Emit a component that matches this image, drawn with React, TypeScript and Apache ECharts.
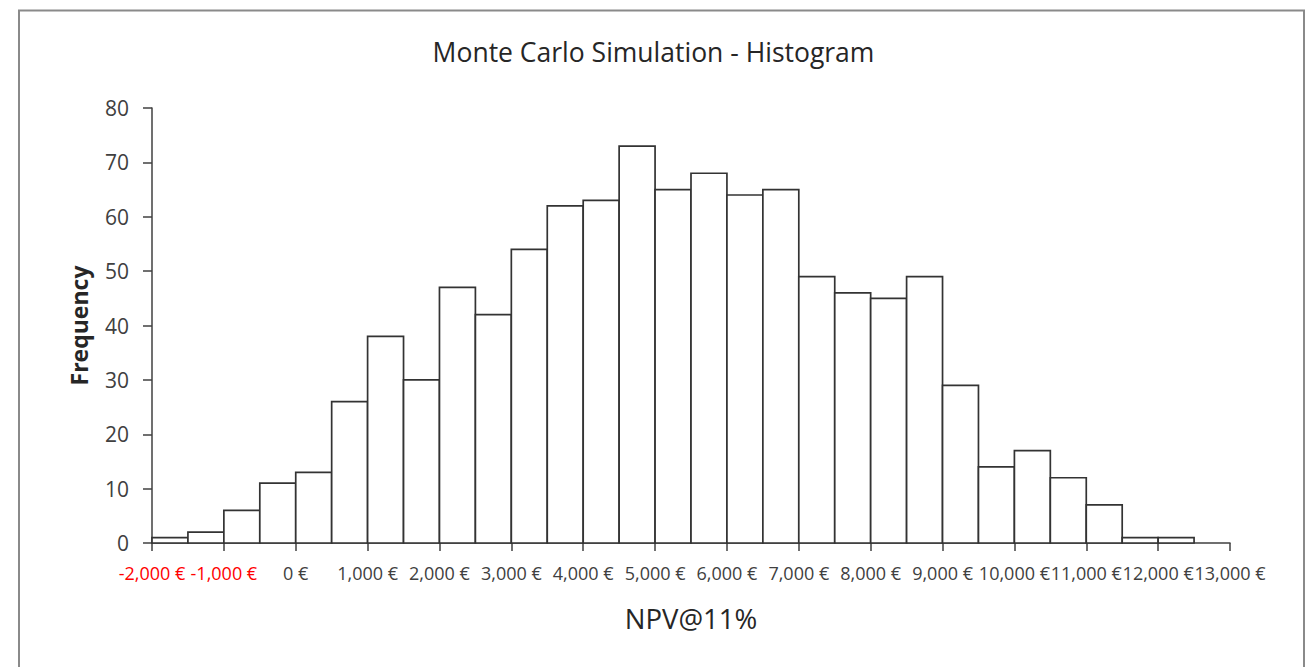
import React, { useEffect, useRef } from "react";
import * as echarts from "echarts";

const binStarts = [
  -2000, -1500, -1000, -500, 0, 500, 1000, 1500, 2000, 2500, 3000, 3500, 4000, 4500, 5000,
  5500, 6000, 6500, 7000, 7500, 8000, 8500, 9000, 9500, 10000, 10500, 11000, 11500, 12000,
];
const binWidth = 500;
const frequencies = [
  1, 2, 6, 11, 13, 26, 38, 30, 47, 42, 54, 62, 63, 73, 65, 68, 64, 65, 49, 46, 45, 49, 29, 14,
  17, 12, 7, 1, 1,
];
const xMin = -2000;
const xMax = 13000;
const xStep = 1000;
const yMin = 0;
const yMax = 80;
const yStep = 10;

const FONT = "'Open Sans', 'DejaVu Sans', sans-serif";
const TEXT = "#404040";

export default function App() {
  const ref = useRef<HTMLDivElement>(null);
  useEffect(() => {
    if (!ref.current) return;
    const chart = echarts.init(ref.current, undefined, { renderer: "svg" });
    const data = binStarts.map((s, i) => [s, s + binWidth, frequencies[i]]);
    const fmt = (v: number) => v.toLocaleString("en-US") + " \u20ac";
    chart.setOption({
      animation: false,
      backgroundColor: "#ffffff",
      title: {
        text: "Monte Carlo Simulation - Histogram",
        left: "center",
        top: 38,
        padding: 0,
        textStyle: { fontFamily: FONT, fontSize: 26.5, fontWeight: "normal", color: "#262626" },
      },
      graphic: [
        {
          type: "rect",
          shape: { x: 19, y: 10.5, width: 1285, height: 700 },
          style: { fill: "none", stroke: "#8a8a8a", lineWidth: 2 },
          silent: true,
        },
      ],
      grid: { left: 152, right: 77, top: 108, bottom: 124, containLabel: false },
      xAxis: {
        type: "value",
        min: xMin,
        max: xMax,
        interval: xStep,
        name: "NPV@11%",
        nameLocation: "middle",
        nameGap: 61,
        nameTextStyle: { fontFamily: FONT, fontSize: 27.5, color: "#262626" },
        axisLine: { show: true, onZero: false, lineStyle: { color: TEXT, width: 1.5 } },
        axisTick: { show: true, length: 8, lineStyle: { color: TEXT, width: 1.5 } },
        splitLine: { show: false },
        axisLabel: {
          margin: 21,
          hideOverlap: false,
          fontFamily: FONT,
          fontSize: 18,
          color: TEXT,
          formatter: (v: number) => (v < 0 ? "{r|" + fmt(v) + "}" : fmt(v)),
          rich: { r: { color: "#ff0000", fontFamily: FONT, fontSize: 18 } },
        },
      },
      yAxis: {
        type: "value",
        min: yMin,
        max: yMax,
        interval: yStep,
        name: "Frequency",
        nameLocation: "middle",
        nameGap: 62,
        nameTextStyle: { fontFamily: FONT, fontSize: 23, fontWeight: "bold", color: "#262626" },
        axisLine: { show: true, onZero: false, lineStyle: { color: TEXT, width: 1.5 } },
        axisTick: { show: true, length: 9, lineStyle: { color: TEXT, width: 1.5 } },
        splitLine: { show: false },
        axisLabel: { margin: 23, fontFamily: FONT, fontSize: 21, color: TEXT },
      },
      series: [
        {
          type: "custom",
          data,
          encode: { x: [0, 1], y: 2 },
          renderItem: (params: any, api: any) => {
            const x0 = api.value(0);
            const x1 = api.value(1);
            const v = api.value(2);
            const p0 = api.coord([x0, v]);
            const p1 = api.coord([x1, 0]);
            return {
              type: "rect",
              shape: { x: p0[0], y: p0[1], width: p1[0] - p0[0], height: p1[1] - p0[1] },
              style: { fill: "#ffffff", stroke: "#333333", lineWidth: 1.7 },
            };
          },
        },
      ],
    });
    return () => chart.dispose();
  }, []);
  return (
    <div
      ref={ref}
      style={{ position: "fixed", left: 0, top: 0, width: 1307, height: 667, background: "#fff" }}
    />
  );
}
